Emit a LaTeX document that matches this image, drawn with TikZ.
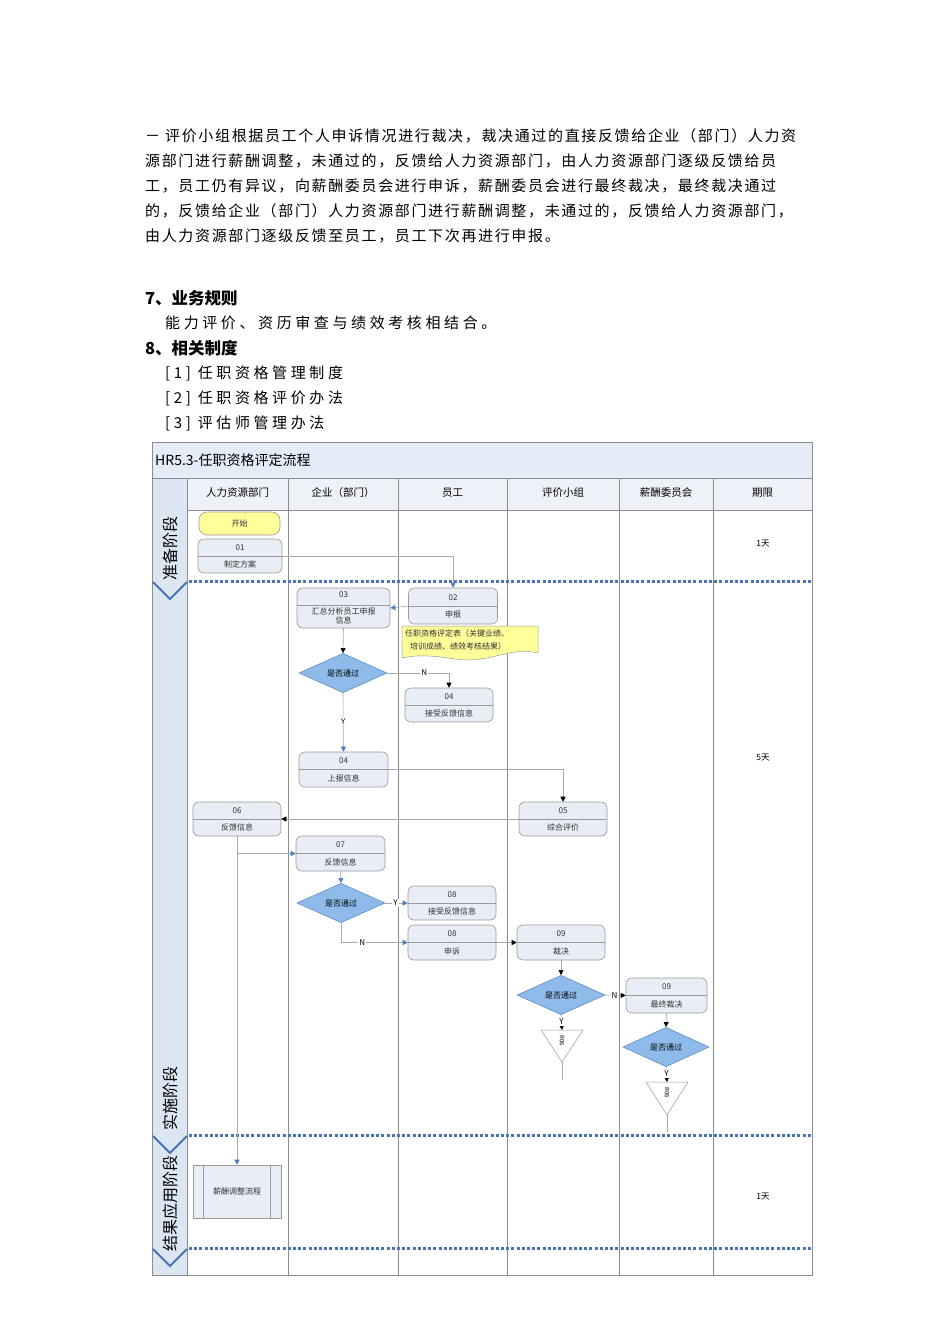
\documentclass[tikz,border=0pt]{standalone}
\usepackage{fontspec}
\setmainfont{Noto Sans CJK SC}
\newfontfamily\cjk{Noto Sans CJK SC}
\newfontfamily\bodyfont[LetterSpace=11]{Noto Sans CJK SC}
\newfontfamily\listfont[LetterSpace=24]{Noto Sans CJK SC}
\usetikzlibrary{shapes.geometric,arrows.meta,calc}
\definecolor{nodefill}{HTML}{E8EDF6}
\definecolor{nodeline}{HTML}{9A9A9A}
\definecolor{diafill}{HTML}{8EBBEA}
\definecolor{dialine}{HTML}{5E8CC4}
\definecolor{sepblue}{HTML}{4A74B5}
\definecolor{arrblue}{HTML}{4F7EC0}
\definecolor{connc}{HTML}{A8A8A8}
\definecolor{titlefill}{HTML}{E4ECF7}
\definecolor{headfill}{HTML}{EEF2F8}
\definecolor{stripfill}{HTML}{DCE6F2}
\definecolor{startfill}{HTML}{FFFF99}
\definecolor{gridc}{HTML}{8C8C8C}
\tikzset{
 proc/.style={draw=nodeline, fill=nodefill, rounded corners=6pt, line width=0.6pt, inner sep=0},
 lbl/.style={font=\fontsize{8}{8.5}\selectfont, text=black!80, inner sep=0},
 dia/.style={diamond, draw=dialine, fill=diafill, inner sep=0, line width=0.6pt, font=\fontsize{8}{8.5}\selectfont},
 conn/.style={draw=connc, line width=0.6pt},
 ab/.style={conn, -{Triangle[width=5pt,length=5pt,color=arrblue]}},
 ak/.style={conn, -{Triangle[width=5pt,length=5pt,color=black]}},
 yn/.style={font=\fontsize{8}{8}\selectfont, fill=white, inner sep=1pt},
 body/.style={anchor=west, inner sep=0, font=\bodyfont\fontsize{15}{15}\selectfont},
 lst/.style={anchor=west, inner sep=0, font=\listfont\fontsize{15}{15}\selectfont},
 head/.style={anchor=west, inner sep=0, font=\cjk\bfseries\fontsize{16.5}{16.5}\selectfont},
 sep/.style={draw=sepblue, line width=3pt, dash pattern=on 3pt off 2.2pt},
 chev/.style={draw=sepblue, line width=1.8pt},
 grid/.style={draw=gridc, line width=0.6pt},
 colhead/.style={font=\fontsize{10.5}{11}\selectfont, inner sep=0},
 phase/.style={rotate=90, font=\fontsize{16}{16}\selectfont, inner sep=0},
 term/.style={font=\fontsize{8.5}{9}\selectfont, inner sep=0},
}
\newcommand\pnode[7]{%
 \node[proc, minimum width=#4pt, minimum height=#5pt] (#1) at (#2,#3) {};
 \draw[draw=nodeline, line width=0.5pt] (#1.west) -- (#1.east);
 \node[lbl] (#1n) at ($(#1.north)!0.26!(#1.south)$) {#6};
 \node[lbl] (#1l) at ($(#1.north)!0.74!(#1.south)$) {#7};
}
\begin{document}
\begin{tikzpicture}[x=1pt,y=-1pt]
\path[use as bounding box, fill=white] (0,0) rectangle (950,1344);
% body text
\node[body] (p1) at (145,136) {－ 评价小组根据员工个人申诉情况进行裁决，裁决通过的直接反馈给企业（部门）人力资};
\node[body] (p2) at (145,161) {源部门进行薪酬调整，未通过的，反馈给人力资源部门，由人力资源部门逐级反馈给员};
\node[body] (p3) at (145,186) {工，员工仍有异议，向薪酬委员会进行申诉，薪酬委员会进行最终裁决，最终裁决通过};
\node[body] (p4) at (145,211) {的，反馈给企业（部门）人力资源部门进行薪酬调整，未通过的，反馈给人力资源部门，};
\node[body] (p5) at (145,236) {由人力资源部门逐级反馈至员工，员工下次再进行申报。};
\node[head] (h7) at (145,298) {7、业务规则};
\node[lst] (r1) at (165,323) {能力评价、资历审查与绩效考核相结合。};
\node[head] (h8) at (145,348) {8、相关制度};
\node[lst] (l1) at (165,373) {[1] 任职资格管理制度};
\node[lst] (l2) at (165,398) {[2] 任职资格评价办法};
\node[lst] (l3) at (165,423) {[3] 评估师管理办法};
% frame
\fill[titlefill] (152,442) rectangle (812,478);
\fill[headfill] (187,478) rectangle (812,510);
\fill[stripfill] (152,478) rectangle (187,1275);
\draw[grid] (152,442) rectangle (812,1275);
\draw[grid] (152,478) -- (812,478);
\draw[grid] (187,510) -- (812,510);
\foreach \xx in {187,288,398,507,619,713} \draw[grid] (\xx,478) -- (\xx,1275);
\node[anchor=west, inner sep=0, font=\fontsize{14}{14}\selectfont] (title) at (155,460) {HR5.3-任职资格评定流程};
\node[colhead] (c1) at (237.5,493) {人力资源部门};
\node[colhead] (c2) at (343,493) {企业（部门）};
\node[colhead] (c3) at (452.5,493) {员工};
\node[colhead] (c4) at (563,493) {评价小组};
\node[colhead] (c5) at (666,493) {薪酬委员会};
\node[colhead] (c6) at (762.5,493) {期限};
% separators
\draw[sep] (189,581) -- (812,581);
\draw[sep] (189,1135) -- (812,1135);
\draw[sep] (189,1248) -- (812,1248);
\draw[chev] (153,582) -- (170,599) -- (187,582);
\draw[chev] (153,1136) -- (170,1153) -- (187,1136);
\draw[chev] (153,1249) -- (170,1266) -- (187,1249);
\node[phase] (ph1) at (170,548) {准备阶段};
\node[phase] (ph2) at (170,1098) {实施阶段};
\node[phase] (ph3) at (170,1203) {结果应用阶段};
% terms
\node[term] (d1t) at (763,544) {1天};
\node[term] (d2t) at (763,758) {5天};
\node[term] (d3t) at (763,1197) {1天};
% nodes
\node[proc, fill=startfill, rounded corners=8pt, minimum width=81pt, minimum height=23pt] (start) at (239.5,523.5) {};
\node[lbl] (startl) at (start) {开始};
\pnode{n01}{240}{556}{84}{34}{01}{制定方案}
\pnode{n02}{453}{606}{89}{36}{02}{申报}
\node[proc, minimum width=93pt, minimum height=40pt] (n03) at (343.5,608) {};
\draw[draw=nodeline, line width=0.5pt] (297,605) -- (390,605);
\node[lbl] (n03n) at (343.5,595) {03};
\node[lbl, align=center] (n03l) at (343.5,616) {汇总分析员工申报\\[1pt]信息};
% note
\path[draw=nodeline, fill=startfill, line width=0.5pt] (402,626) -- (538,626) -- (538,653)
  .. controls (510,646) and (490,664) .. (455,659) .. controls (430,655) and (415,655) .. (402,658) -- cycle;
\node[lbl, anchor=west] (note1) at (405,633) {任职资格评定表（关键业绩、};
\node[lbl, anchor=west] (note2) at (410,646) {培训成绩、绩效考核结果）};
\node[dia, minimum width=88pt, minimum height=34pt] (d1) at (343,673) {是否通过};
\pnode{n04a}{449}{705}{88}{34}{04}{接受反馈信息}
\pnode{n04b}{343.5}{769.5}{89}{35}{04}{上报信息}
\pnode{n05}{563}{819}{88}{34}{05}{综合评价}
\pnode{n06}{237}{819}{88}{34}{06}{反馈信息}
\pnode{n07}{340.5}{853.5}{89}{35}{07}{反馈信息}
\node[dia, minimum width=88pt, minimum height=34pt] (d2) at (341,903) {是否通过};
\pnode{n08a}{452}{903}{88}{34}{08}{接受反馈信息}
\pnode{n08b}{452}{942.5}{88}{35}{08}{申诉}
\pnode{n09a}{561}{942.5}{88}{35}{09}{裁决}
\node[dia, minimum width=88pt, minimum height=34pt] (d3) at (561,995) {是否通过};
\pnode{n09b}{666.5}{995.5}{81}{35}{09}{最终裁决}
\node[dia, minimum width=86pt, minimum height=34pt] (d4) at (666,1047) {是否通过};
% subprocess
\node[draw=nodeline, fill=nodefill, line width=0.6pt, minimum width=88pt, minimum height=53pt, inner sep=0] (sub) at (237,1191.5) {};
\draw[draw=nodeline, line width=0.5pt] ($(sub.north west)+(11,0)$) -- ($(sub.south west)+(11,0)$);
\draw[draw=nodeline, line width=0.5pt] ($(sub.north east)+(-11,0)$) -- ($(sub.south east)+(-11,0)$);
\node[lbl] (subl) at (sub) {薪酬调整流程};
% triangles
\coordinate (tA) at (562,1030);
\coordinate (tAb) at (562,1062);
\coordinate (tAe) at (562,1080);
\draw[draw=nodeline, fill=white, line width=0.5pt] (541,1030) -- (583,1030) -- (tAb) -- cycle;
\node[rotate=-90, font=\fontsize{6}{6}\selectfont, inner sep=0] (tAl) at (562,1041) {R06};
\coordinate (tB) at (667,1082);
\coordinate (tBb) at (667,1115);
\coordinate (tBe) at (667,1132);
\draw[draw=nodeline, fill=white, line width=0.5pt] (646,1082) -- (688,1082) -- (tBb) -- cycle;
\node[rotate=-90, font=\fontsize{6}{6}\selectfont, inner sep=0] (tBl) at (667,1093) {R06};
% connectors
\draw[ab] (n01.east) -| (n02.north);
\draw[ab] (n02.west) -- (n03.east);
\draw[ak] (n03.south) -- (d1.north);
\draw[ak] (d1.east) -| (n04a.north) node[yn, pos=0.3] {N};
\draw[ab] (d1.south) -- (n04b.north) node[yn, pos=0.48] {Y};
\draw[ak] (n04b.east) -| (n05.north);
\draw[ak] (n05.west) -- (n06.east);
\draw[ab] (n06.south) |- (n07.west);
\draw[ab] (n06.south) -- (sub.north);
\draw[ab] (n07.south) -- (d2.north);
\draw[ab] (d2.east) -- (n08a.west) node[yn, pos=0.45] {Y};
\draw[ab] (d2.south) |- (n08b.west) node[yn, pos=0.66] {N};
\draw[ak] (n08b.east) -- (n09a.west);
\draw[ak] (n09a.south) -- (d3.north);
\draw[ak] (d3.east) -- (n09b.west) node[yn, pos=0.45] {N};
\draw[ak] (d3.south) -- (tA) node[yn, pos=0.45] {Y};
\draw[ak] (n09b.south) -- (d4.north);
\draw[ak] (d4.south) -- (tB) node[yn, pos=0.45] {Y};
\draw[conn] (tAb) -- (tAe);
\draw[conn] (tBb) -- (tBe);
\end{tikzpicture}
\end{document}
